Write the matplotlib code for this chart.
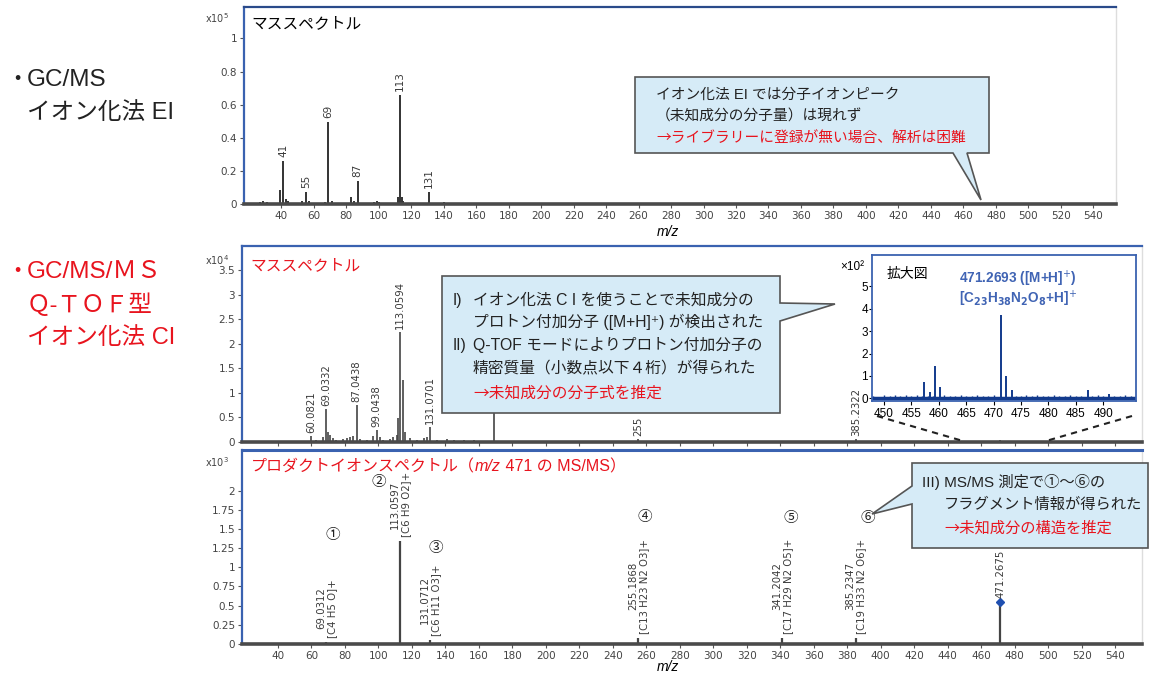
import matplotlib
matplotlib.use("Agg")
import matplotlib.pyplot as plt
from matplotlib.patches import Polygon
from matplotlib.lines import Line2D

plt.rcParams['font.family'] = ['Liberation Sans', 'Noto Sans CJK JP', 'DejaVu Sans']
plt.rcParams['mathtext.fontset'] = 'dejavusans'

W, H = 1174, 685

# ---------------- data ----------------
# Top: GC/MS EI mass spectrum (x10^5)
ei_mz = [27, 29, 31, 39, 41, 43, 44, 53, 55, 57, 67, 69, 71, 83, 85, 87, 97, 99, 100,
         112, 113, 114, 115, 131, 140]
ei_int = [0.01, 0.02, 0.01, 0.085, 0.26, 0.03, 0.02, 0.02, 0.07, 0.02, 0.01, 0.495, 0.02,
          0.04, 0.02, 0.14, 0.015, 0.02, 0.015, 0.04, 0.66, 0.045, 0.02, 0.07, 0.015]
ei_label_mz = [41, 55, 69, 87, 113, 131]
ei_label_h = [0.26, 0.07, 0.495, 0.14, 0.66, 0.07]
ei_labels = ["41", "55", "69", "87", "113", "131"]

# Middle: Q-TOF CI mass spectrum (x10^4)
ci_mz = [60.08, 63, 67, 69.03, 70, 71, 73, 75, 79, 81, 83, 85, 87.04, 89, 93, 97, 99.04,
         101, 103, 107, 109, 111, 112, 113.06, 115, 116, 119, 123, 127, 129, 131.07, 135,
         141, 145, 151, 157, 169, 185, 199, 255, 300, 339, 385.23, 471.27]
ci_int = [0.12, 0.05, 0.1, 0.68, 0.2, 0.15, 0.08, 0.05, 0.06, 0.08, 0.1, 0.12, 0.75, 0.06,
          0.05, 0.12, 0.24, 0.1, 0.05, 0.06, 0.1, 0.15, 0.48, 2.24, 1.27, 0.2, 0.08, 0.05,
          0.08, 0.1, 0.31, 0.05, 0.06, 0.04, 0.05, 0.04, 1.5, 0.03, 0.03, 0.06, 0.02, 0.02,
          0.06, 0.04]
ci_label_mz = [60.08, 69.03, 87.04, 99.04, 113.06, 131.07, 255, 385.23]
ci_label_h = [0.12, 0.68, 0.75, 0.24, 2.24, 0.31, 0.06, 0.06]
ci_labels = ["60.0821", "69.0332", "87.0438", "99.0438", "113.0594", "131.0701", "255",
             "385.2322"]

# Inset: zoom 448-496 (x10^2)
zoom_mz = [457.3, 458.3, 459.3, 460.3, 471.27, 472.3, 473.3, 487.2, 491.0]
zoom_int = [0.75, 0.3, 1.45, 0.5, 3.7, 1.0, 0.35, 0.35, 0.2]
noise_mz = [448, 449, 450, 451, 452, 453, 454, 455, 456, 457, 458, 459, 461, 462, 463, 464,
            465, 466, 467, 468, 469, 470, 474, 475, 476, 477, 478, 479, 480, 481, 482, 483,
            484, 485, 486, 488, 489, 490, 492, 493, 494, 495]
noise_int = [0.12, 0.08, 0.15, 0.1, 0.13, 0.09, 0.16, 0.11, 0.14, 0.1, 0.12, 0.09, 0.13, 0.1,
             0.12, 0.15, 0.09, 0.11, 0.13, 0.1, 0.12, 0.14, 0.1, 0.12, 0.15, 0.1, 0.13, 0.09,
             0.11, 0.14, 0.1, 0.12, 0.13, 0.1, 0.12, 0.1, 0.14, 0.11, 0.12, 0.1, 0.13, 0.09]

# Bottom: product ion spectrum of m/z 471 (x10^3)
pi_mz = [69.03, 113.06, 131.07, 255.19, 341.20, 385.23, 471.27]
pi_int = [0.03, 1.34, 0.05, 0.08, 0.08, 0.08, 0.55]
pi_labels = ["69.0312\n[C4 H5 O]+", "113.0597\n[C6 H9 O2]+", "131.0712\n[C6 H11 O3]+",
             "255.1868\n[C13 H23 N2 O3]+", "341.2042\n[C17 H29 N2 O5]+",
             "385.2347\n[C19 H33 N2 O6]+", "471.2675"]
pi_circles = ["①", "②", "③", "④", "⑤", "⑥", ""]

x_ticks = list(range(40, 541, 20))
top_yticks = [0, 0.2, 0.4, 0.6, 0.8, 1]
top_ylabels = ["0", "0.2", "0.4", "0.6", "0.8", "1"]
mid_yticks = [0, 0.5, 1, 1.5, 2, 2.5, 3, 3.5]
mid_ylabels = ["0", "0.5", "1", "1.5", "2", "2.5", "3", "3.5"]
bot_yticks = [0, 0.25, 0.5, 0.75, 1, 1.25, 1.5, 1.75, 2]
bot_ylabels = ["0", "0.25", "0.5", "0.75", "1", "1.25", "1.5", "1.75", "2"]
zoom_xticks = [450, 455, 460, 465, 470, 475, 480, 485, 490]
zoom_yticks = [0, 1, 2, 3, 4, 5]

# ---------------- helpers ----------------
def fx(x):
    return x / W

def fy(y):
    return 1 - y / H

def rect(x0, y0, x1, y1):
    return [fx(x0), fy(y1), fx(x1) - fx(x0), fy(y0) - fy(y1)]

BLUE = '#3a62b0'
DARKAX = '#4a4a4a'
TICKC = '#444444'
RED = '#e8141e'
BOXFILL = '#d6ebf7'
LABC = '#3a3a3a'
CJK = ['Noto Sans CJK JP', 'DejaVu Sans']

fig = plt.figure(figsize=(W / 100, H / 100), dpi=100)


def style_axes(ax, yticks, ylabels, xlabels=True):
    for s in ['left', 'top']:
        ax.spines[s].set_color(BLUE)
        ax.spines[s].set_linewidth(1.6)
    ax.spines['right'].set_color('#dddddd')
    ax.spines['right'].set_linewidth(1.0)
    ax.spines['bottom'].set_color(DARKAX)
    ax.spines['bottom'].set_linewidth(2.6)
    ax.set_yticks(yticks)
    ax.set_yticklabels(ylabels, family='DejaVu Sans', fontsize=7.5, color=TICKC)
    ax.set_xticks(x_ticks)
    if xlabels:
        ax.set_xticklabels([str(t) for t in x_ticks], family='DejaVu Sans', fontsize=7.5,
                           color=TICKC)
    else:
        ax.set_xticklabels([])
    ax.tick_params(axis='both', direction='out', length=3, width=0.8, color='#555555',
                   pad=2)


# ---------------- top panel ----------------
ax1 = fig.add_axes(rect(244, 7, 1116, 204))
ax1.vlines(ei_mz, 0, ei_int, color='#333333', lw=1.4)
for m, h, lab in zip(ei_label_mz, ei_label_h, ei_labels):
    ax1.annotate(lab, (m, h), xytext=(0, 3), textcoords='offset points', rotation=90,
                 ha='center', va='bottom', fontsize=7.5, color=LABC, family='DejaVu Sans')
ax1.set_xlim(17, 554)
ax1.set_ylim(0, 1.19)
style_axes(ax1, top_yticks, top_ylabels)
ax1.spines['top'].set_color('#2a4a8a')
ax1.text(0.009, 0.915, "マススペクトル", transform=ax1.transAxes, fontsize=11.3,
         color='black', va='center', ha='left')
fig.text(fx(205), fy(18), "x10$^{5}$", fontsize=7, color=TICKC, family='DejaVu Sans',
         va='center')
fig.text(fx(657), fy(232), "m/z", fontsize=10, style='italic', va='center')

# ---------------- middle panel ----------------
ax2 = fig.add_axes(rect(242, 246, 1142, 442))
ax2.vlines(ci_mz, 0, ci_int, color='#444444', lw=1.2)
for m, h, lab in zip(ci_label_mz, ci_label_h, ci_labels):
    ax2.annotate(lab, (m, h), xytext=(0, 2), textcoords='offset points', rotation=90,
                 ha='center', va='bottom', fontsize=7.3, color=LABC, family='DejaVu Sans')
ax2.set_xlim(18.6, 556)
ax2.set_ylim(0, 3.99)
style_axes(ax2, mid_yticks, mid_ylabels, xlabels=False)
ax2.text(0.009, 0.9, "マススペクトル", transform=ax2.transAxes, fontsize=11.3,
         color=RED, va='center', ha='left')
fig.text(fx(205), fy(260), "x10$^{4}$", fontsize=7, color=TICKC, family='DejaVu Sans',
         va='center')

# inset
axi = fig.add_axes(rect(872, 255, 1136, 401))
NAVY = '#123a8c'
axi.vlines(noise_mz, 0, noise_int, color=NAVY, lw=1.0)
axi.vlines(zoom_mz, 0, zoom_int, color=NAVY, lw=1.4)
axi.axhline(0.03, color=NAVY, lw=2.5)
axi.set_xlim(447.8, 496)
axi.set_ylim(-0.12, 6.4)
axi.set_xticks(zoom_xticks)
axi.set_xticklabels([str(t) for t in zoom_xticks], family='Liberation Sans', fontsize=8.5)
axi.set_yticks(zoom_yticks)
axi.set_yticklabels([str(t) for t in zoom_yticks], family='Liberation Sans', fontsize=8.5)
axi.tick_params(direction='out', length=3, width=0.8, pad=2)
axi.tick_params(axis='y', pad=0.5, length=2.5)
for s in axi.spines.values():
    s.set_color(BLUE)
    s.set_linewidth(1.3)
axi.text(0.055, 0.87, "拡大図", transform=axi.transAxes, fontsize=10, va='center')
axi.text(0.33, 0.84, "471.2693 ([M+H]$^{+}$)", transform=axi.transAxes, fontsize=9.8,
         fontweight='bold', color='#4064b4', family='Liberation Sans', va='center')
axi.text(0.33, 0.70, "[C$_{\\mathbf{23}}$H$_{\\mathbf{38}}$N$_{\\mathbf{2}}$O$_{\\mathbf{8}}$+H]$^{+}$",
         transform=axi.transAxes, fontsize=9.8, fontweight='bold', color='#4064b4',
         family='Liberation Sans', va='center')
fig.text(fx(840), fy(267), "×10²", fontsize=8.5, family='Liberation Sans', va='center')

# ---------------- bottom panel ----------------
ax3 = fig.add_axes(rect(242, 450, 1142, 644))
ax3.vlines(pi_mz, 0, pi_int, color='#444444', lw=1.6)
ax3.plot([pi_mz[-1]], [pi_int[-1]], marker='D', ms=4, color='#1f4fb0', ls='none')
circ_dx = [4, -13, 3, 4, 5, 7, 0]
circ_y = [1.42, 2.11, 1.25, 1.66, 1.64, 1.64, 0]
for m, h, lab, c, dx, cy in zip(pi_mz, pi_int, pi_labels, pi_circles, circ_dx, circ_y):
    ax3.annotate(lab, (m, h), xytext=(0, 3), textcoords='offset points', rotation=90,
                 ha='center', va='bottom', fontsize=7.3, color=LABC,
                 family='DejaVu Sans', linespacing=1.1)
    if c:
        ax3.text(m + dx, cy, c, fontsize=10.5, ha='center', va='center', color='#222222')
ax3.set_xlim(18.6, 556)
ax3.set_ylim(0, 2.53)
style_axes(ax3, bot_yticks, bot_ylabels)
ax3.spines['top'].set_linewidth(2.2)
tt1 = ax3.text(0.01, 0.915, "プロダクトイオンスペクトル（", transform=ax3.transAxes,
               fontsize=11.5, color=RED, va='center', ha='left')
tt2 = ax3.annotate("m/z", xy=(1, 0.5), xycoords=tt1, fontsize=11.5, color=RED,
                   style='italic', va='center', ha='left')
tt3 = ax3.annotate(" 471 の MS/MS）", xy=(1, 0.5), xycoords=tt2, fontsize=11.5, color=RED,
                   va='center', ha='left')
fig.text(fx(205), fy(462), "x10$^{3}$", fontsize=7, color=TICKC, family='DejaVu Sans',
         va='center')
fig.text(fx(657), fy(667), "m/z", fontsize=10, style='italic', va='center')

# dashed zoom lines
for (x0, y0, x1, y1) in [(877, 416, 963, 441), (1132, 416, 1046, 441)]:
    fig.add_artist(Line2D([fx(x0), fx(x1)], [fy(y0), fy(y1)], transform=fig.transFigure,
                          ls=(0, (3, 2.5)), color='#222222', lw=1.5))

# ---------------- callouts ----------------
def callout(pts):
    poly = Polygon([(fx(x), fy(y)) for x, y in pts], closed=True, transform=fig.transFigure,
                   facecolor=BOXFILL, edgecolor='#555555', lw=1.2, zorder=5)
    fig.add_artist(poly)

callout([(635, 77), (989, 77), (989, 153), (967, 153), (981, 200), (953, 153), (635, 153)])
callout([(442, 276), (780, 276), (780, 303), (835, 304), (780, 321), (780, 413), (442, 413)])
callout([(912, 463), (1148, 463), (1148, 548), (912, 548), (912, 504), (872, 514), (912, 486)])

def t(x, y, s, color='#222222', size=10.5, family=None):
    kw = {}
    if family is not None:
        kw['family'] = family
    fig.text(fx(x), fy(y), s, fontsize=size, color=color, va='center', ha='left', zorder=6,
             **kw)

t(656, 95, "イオン化法 EI では分子イオンピーク", size=10.6)
t(656, 117, "（未知成分の分子量）は現れず", size=10.6)
t(656, 138, "→ライブラリーに登録が無い場合、解析は困難", RED, size=10.6, family=CJK)

t(453, 300, "I)", size=11.2)
t(473, 300, "イオン化法 C I を使うことで未知成分の", size=11.3)
t(473, 322, "プロトン付加分子 ([M+H]⁺) が検出された", size=11.3)
t(453, 345, "II)", size=11.2)
t(473, 345, "Q-TOF モードによりプロトン付加分子の", size=11.3)
t(473, 369, "精密質量（小数点以下４桁）が得られた", size=11.3)
t(473, 393, "→未知成分の分子式を推定", RED, size=11.3, family=CJK)

t(922, 482, "III) MS/MS 測定で①〜⑥の", size=11)
t(944, 505, "フラグメント情報が得られた", size=11)
t(944, 528, "→未知成分の構造を推定", RED, size=11, family=CJK)

# ---------------- left labels ----------------
t(6, 80, "・", size=16)
t(27, 80, "GC/MS", size=17.5)
t(27, 113, "イオン化法 EI", size=17)
t(6, 272, "・", RED, size=16)
t(27, 272, "GC/MS/ＭＳ", RED, size=17.5)
t(27, 305, "Ｑ-ＴＯＦ型", RED, size=17)
t(27, 338, "イオン化法 CI", RED, size=17)

fig.savefig("out.png", dpi=100)
